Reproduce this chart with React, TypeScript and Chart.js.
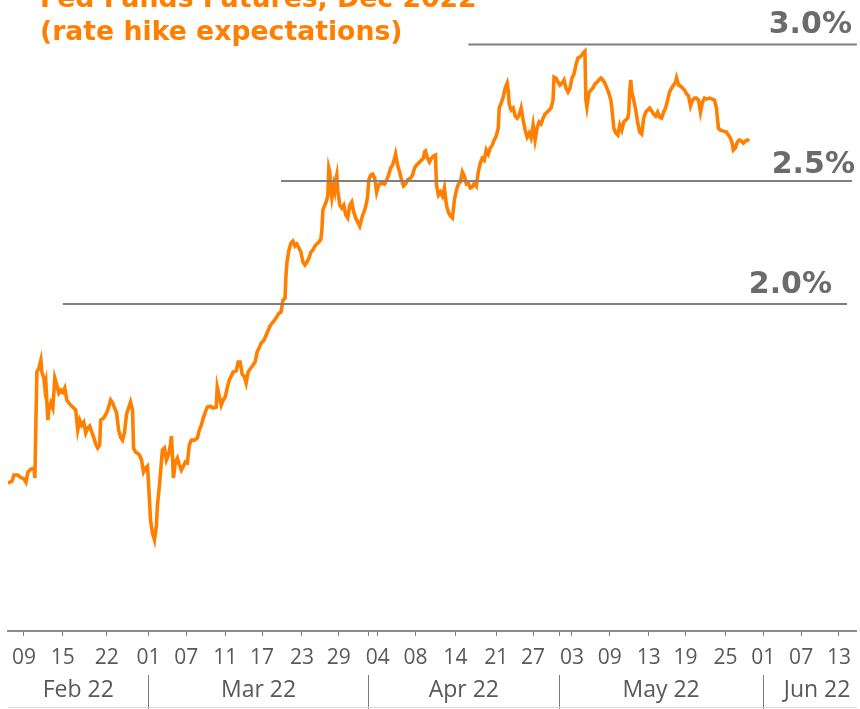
import { useEffect, useRef } from 'react';
import { Chart, registerables } from 'chart.js';

Chart.register(...registerables);

// Session position (trading-session units along the date axis)
const sessionX = [
  0, 0.2, 0.4, 0.6, 1.0, 1.2, 1.6, 1.8, 2.0, 2.3,
  2.6, 2.7, 2.8, 2.9, 3.1, 3.3, 3.4, 3.6, 3.7, 3.8,
  4.0, 4.1, 4.3, 4.5, 4.7, 4.9, 5.1, 5.3, 5.5, 5.7,
  5.9, 6.2, 6.5, 6.8, 7.0, 7.2, 7.4, 7.6, 7.8, 8.0,
  8.2, 8.4, 8.6, 8.8, 9.0, 9.2, 9.3, 9.6, 9.9, 10.1,
  10.3, 10.5, 10.7, 10.9, 11.1, 11.3, 11.5, 11.7, 11.9, 12.1,
  12.3, 12.5, 12.6, 12.8, 13.0, 13.2, 13.4, 13.6, 13.8, 14.0,
  14.2, 14.3, 14.5, 14.7, 14.9, 15.0, 15.2, 15.4, 15.5, 15.7,
  15.9, 16.1, 16.3, 16.4, 16.5, 16.6, 16.8, 17.0, 17.2, 17.4,
  17.6, 17.8, 18.0, 18.2, 18.4, 18.7, 19.0, 19.2, 19.4, 19.6,
  19.8, 20.0, 20.3, 20.6, 20.9, 21.0, 21.2, 21.4, 21.6, 21.8,
  22.0, 22.2, 22.4, 22.6, 22.9, 23.1, 23.3, 23.5, 23.7, 23.9,
  24.1, 24.3, 24.6, 24.8, 25.0, 25.2, 25.4, 25.7, 26.0, 26.3,
  26.6, 26.9, 27.2, 27.4, 27.6, 27.8, 27.9, 28.0, 28.2, 28.4,
  28.6, 28.8, 29.0, 29.2, 29.4, 29.6, 29.8, 30.0, 30.2, 30.4,
  30.6, 30.8, 31.0, 31.2, 31.4, 31.5, 31.6, 31.8, 32.0, 32.1,
  32.2, 32.3, 32.4, 32.5, 32.7, 32.8, 32.9, 33.0, 33.1, 33.3,
  33.5, 33.7, 33.9, 34.1, 34.3, 34.5, 34.7, 34.9, 35.1, 35.3,
  35.4, 35.6, 35.8, 36.0, 36.1, 36.2, 36.4, 36.6, 36.8, 37.0,
  37.2, 37.5, 37.8, 38.0, 38.2, 38.4, 38.6, 38.8, 38.9, 39.1,
  39.3, 39.5, 39.7, 39.9, 40.1, 40.4, 40.6, 40.8, 41.0, 41.2,
  41.5, 41.7, 41.8, 41.9, 42.1, 42.3, 42.5, 42.7, 42.9, 43.0,
  43.2, 43.4, 43.6, 43.8, 44.0, 44.2, 44.4, 44.6, 44.8, 45.0,
  45.2, 45.4, 45.6, 45.8, 46.0, 46.2, 46.4, 46.6, 46.8, 47.0,
  47.2, 47.4, 47.6, 47.8, 48.0, 48.2, 48.4, 48.6, 48.8, 49.0,
  49.2, 49.3, 49.5, 49.7, 49.9, 50.1, 50.2, 50.3, 50.5, 50.7,
  50.9, 51.1, 51.3, 51.5, 51.7, 51.9, 52.1, 52.3, 52.5, 52.7,
  52.9, 53.1, 53.3, 53.5, 53.7, 53.9, 54.1, 54.3, 54.5, 54.7,
  54.8, 55.0, 55.2, 55.4, 55.6, 55.8, 56.0, 56.2, 56.4, 56.6,
  56.8, 57.0, 57.2, 57.4, 57.6, 57.8, 57.9, 58.0, 58.1, 58.3,
  58.5, 58.7, 58.9, 59.1, 59.3, 59.5, 59.7, 59.9, 60.1, 60.3,
  60.5, 60.6, 60.8, 61.0, 61.2, 61.4, 61.6, 61.8, 62.0, 62.2,
  62.3, 62.4, 62.5, 62.6, 62.8, 63.0, 63.2, 63.4, 63.6, 63.8,
  64.0, 64.2, 64.4, 64.6, 64.8, 65.0, 65.2, 65.4, 65.6, 65.8,
  66.0, 66.2, 66.4, 66.6, 66.8, 67.0, 67.1, 67.3, 67.5, 67.7,
  67.9, 68.1, 68.3, 68.5, 68.7, 68.9, 69.1, 69.3, 69.5, 69.7,
  69.9, 70.1, 70.4, 70.7, 70.9, 71.1, 71.3, 71.5, 71.8, 72.1,
  72.3, 72.5, 72.7, 72.8, 73.0, 73.2, 73.4, 73.6, 73.8, 74.0,
  74.2, 74.4,
];

// Implied Dec-2022 fed funds rate, %
const impliedRate = [
  1.272, 1.276, 1.280, 1.305, 1.305, 1.297, 1.289, 1.276, 1.317, 1.329,
  1.333, 1.293, 1.520, 1.724, 1.740, 1.772, 1.724, 1.699, 1.659, 1.679,
  1.528, 1.569, 1.598, 1.577, 1.699, 1.671, 1.638, 1.650, 1.642, 1.659,
  1.610, 1.593, 1.581, 1.569, 1.488, 1.528, 1.508, 1.520, 1.476, 1.496,
  1.504, 1.480, 1.459, 1.431, 1.415, 1.427, 1.528, 1.537, 1.557, 1.581,
  1.610, 1.598, 1.577, 1.557, 1.488, 1.459, 1.447, 1.480, 1.553, 1.577,
  1.602, 1.569, 1.415, 1.398, 1.394, 1.386, 1.366, 1.317, 1.333, 1.341,
  1.203, 1.122, 1.069, 1.041, 1.102, 1.183, 1.264, 1.358, 1.407, 1.415,
  1.366, 1.386, 1.427, 1.463, 1.386, 1.293, 1.358, 1.374, 1.346, 1.325,
  1.341, 1.358, 1.354, 1.427, 1.447, 1.447, 1.455, 1.488, 1.508, 1.537,
  1.561, 1.581, 1.585, 1.577, 1.581, 1.663, 1.626, 1.589, 1.610, 1.622,
  1.659, 1.691, 1.707, 1.724, 1.728, 1.764, 1.764, 1.715, 1.707, 1.679,
  1.724, 1.736, 1.752, 1.764, 1.805, 1.821, 1.841, 1.854, 1.882, 1.911,
  1.927, 1.943, 1.963, 1.967, 2.016, 2.024, 2.118, 2.171, 2.220, 2.248,
  2.256, 2.236, 2.244, 2.228, 2.211, 2.171, 2.159, 2.171, 2.187, 2.211,
  2.220, 2.236, 2.244, 2.252, 2.264, 2.301, 2.382, 2.402, 2.423, 2.443,
  2.553, 2.537, 2.463, 2.431, 2.484, 2.463, 2.504, 2.524, 2.463, 2.402,
  2.390, 2.402, 2.362, 2.350, 2.402, 2.415, 2.374, 2.350, 2.333, 2.317,
  2.333, 2.362, 2.382, 2.415, 2.443, 2.504, 2.524, 2.528, 2.512, 2.455,
  2.484, 2.492, 2.488, 2.504, 2.524, 2.553, 2.565, 2.593, 2.610, 2.565,
  2.537, 2.504, 2.480, 2.488, 2.504, 2.512, 2.524, 2.553, 2.565, 2.573,
  2.585, 2.593, 2.618, 2.622, 2.593, 2.577, 2.593, 2.602, 2.606, 2.484,
  2.443, 2.455, 2.439, 2.472, 2.402, 2.374, 2.358, 2.350, 2.423, 2.463,
  2.488, 2.496, 2.537, 2.520, 2.488, 2.492, 2.472, 2.476, 2.492, 2.480,
  2.537, 2.573, 2.593, 2.585, 2.626, 2.610, 2.634, 2.646, 2.667, 2.683,
  2.715, 2.797, 2.817, 2.841, 2.878, 2.898, 2.870, 2.813, 2.789, 2.797,
  2.764, 2.756, 2.768, 2.797, 2.748, 2.707, 2.679, 2.695, 2.675, 2.728,
  2.667, 2.715, 2.740, 2.732, 2.756, 2.772, 2.780, 2.789, 2.797, 2.829,
  2.923, 2.919, 2.902, 2.890, 2.898, 2.911, 2.878, 2.862, 2.878, 2.919,
  2.935, 2.972, 3.000, 3.004, 3.012, 3.024, 3.028, 2.829, 2.801, 2.858,
  2.870, 2.878, 2.894, 2.902, 2.911, 2.919, 2.911, 2.898, 2.878, 2.858,
  2.829, 2.797, 2.715, 2.695, 2.687, 2.728, 2.707, 2.740, 2.748, 2.756,
  2.780, 2.870, 2.911, 2.862, 2.829, 2.789, 2.736, 2.699, 2.691, 2.756,
  2.780, 2.789, 2.797, 2.785, 2.772, 2.764, 2.780, 2.760, 2.756, 2.780,
  2.797, 2.829, 2.862, 2.878, 2.890, 2.902, 2.919, 2.890, 2.886, 2.878,
  2.870, 2.854, 2.846, 2.805, 2.829, 2.837, 2.837, 2.829, 2.780, 2.821,
  2.837, 2.833, 2.837, 2.833, 2.829, 2.797, 2.715, 2.707, 2.703, 2.699,
  2.687, 2.675, 2.650, 2.626, 2.634, 2.659, 2.667, 2.663, 2.654, 2.663,
  2.667, 2.663,
];

// Axis ranges
const xMin = 0;
const xMax = 85.2;
const yMin = 0.671;
const yMax = 3.236;

// Day ticks (first row)
const dayTickPos = [1.6, 5.5, 9.9, 14.1, 17.9, 21.8, 25.5, 29.5, 33.2, 37.1, 40.9, 44.9, 49.0, 52.7, 56.6, 60.4, 64.3, 68.0, 72.0, 75.8, 79.6, 83.4];
const dayTickLabels = ['09', '15', '22', '01', '07', '11', '17', '23', '29', '04', '08', '14', '21', '27', '03', '09', '13', '19', '25', '01', '07', '13'];

// Months (second row)
const monthBoundaries = [14.1, 36.2, 55.3, 75.8];
const monthCenters = [7.05, 25.15, 45.75, 65.55, 81.2];
const monthLabels = ['Feb 22', 'Mar 22', 'Apr 22', 'May 22', 'Jun 22'];

// Reference levels
const refLevels = [2.0, 2.5, 3.055];
const refStart = [5.5, 27.4, 46.2];
const refEnd = [84.2, 84.7, 85.2];
const refLabels = ['2.0%', '2.5%', '3.0%'];
const refLabelX = [82.7, 85.0, 84.7];
const refLabelY = [2.045, 2.533, 3.102];

const titleLines = ['Fed Funds Futures, Dec 2022', '(rate hike expectations)'];

const ORANGE = '#FF8000';

type TickDef = { value: number; label: string; sep: boolean };

const xTicks: TickDef[] = (() => {
  const list: TickDef[] = dayTickPos.map((v, i) => ({ value: v, label: dayTickLabels[i], sep: false }));
  monthBoundaries.forEach((b) => {
    if (!list.some((t) => Math.abs(t.value - b) < 0.05)) list.push({ value: b, label: '', sep: true });
  });
  return list.sort((a, b) => a.value - b.value);
})();

const monthTicks: TickDef[] = (() => {
  const list: TickDef[] = monthCenters.map((v, i) => ({ value: v, label: monthLabels[i], sep: false }));
  monthBoundaries.forEach((b) => list.push({ value: b, label: '', sep: true }));
  return list.sort((a, b) => a.value - b.value);
})();

const textPlugin = {
  id: 'textOverlay',
  afterDatasetsDraw(chart: any) {
    const { ctx, scales } = chart;
    const x = scales.x;
    const y = scales.y;
    ctx.save();
    ctx.font = 'bold 30px "DejaVu Sans"';
    ctx.fillStyle = '#6b6b6b';
    ctx.textAlign = 'right';
    ctx.textBaseline = 'alphabetic';
    refLabels.forEach((t, i) => {
      ctx.fillText(t, x.getPixelForValue(refLabelX[i]), y.getPixelForValue(refLabelY[i]));
    });
    ctx.textAlign = 'left';
    ctx.fillStyle = ORANGE;
    ctx.font = 'bold 26.7px "DejaVu Sans"';
    ctx.fillText(titleLines[0], 40, 7);
    ctx.fillText(titleLines[1], 40, 40);
    ctx.restore();
  },
  afterDraw(chart: any) {
    const { ctx, chartArea, height } = chart;
    ctx.save();
    ctx.strokeStyle = '#d9d9d9';
    ctx.lineWidth = 1;
    ctx.beginPath();
    ctx.moveTo(chartArea.left, height - 1.5);
    ctx.lineTo(chartArea.right, height - 1.5);
    ctx.stroke();
    ctx.restore();
  },
};

export default function App() {
  const ref = useRef<HTMLCanvasElement>(null);

  useEffect(() => {
    document.body.style.margin = '0';
    const n = Math.min(sessionX.length, impliedRate.length);
    const series = [];
    for (let i = 0; i < n; i++) series.push({ x: sessionX[i], y: impliedRate[i] });

    const refSets = refLevels.map((lv, i) => ({
      data: [
        { x: refStart[i], y: lv },
        { x: refEnd[i], y: lv },
      ],
      borderColor: '#808080',
      borderWidth: 2,
      pointRadius: 0,
      order: 0,
    }));

    const chart = new Chart(ref.current as HTMLCanvasElement, {
      type: 'line',
      data: {
        datasets: [
          {
            data: series,
            borderColor: ORANGE,
            borderWidth: 3.6,
            pointRadius: 0,
            tension: 0,
            order: 1,
          },
          ...refSets,
        ] as any,
      },
      options: {
        animation: false,
        responsive: false,
        maintainAspectRatio: false,
        devicePixelRatio: 1,
        layout: { padding: { left: 8, right: 0, top: 0, bottom: 0 } },
        plugins: {
          legend: { display: false },
          tooltip: { enabled: false },
          title: { display: false },
        },
        scales: {
          y: { type: 'linear', display: false, min: yMin, max: yMax },
          x: {
            type: 'linear',
            position: 'bottom',
            min: xMin,
            max: xMax,
            afterBuildTicks: (s: any) => {
              s.ticks = xTicks.map((t) => ({ value: t.value }));
            },
            afterFit: (s: any) => {
              s.height = 44;
            },
            ticks: {
              autoSkip: false,
              maxRotation: 0,
              minRotation: 0,
              padding: 9,
              color: '#595959',
              font: { family: '"Open Sans"', size: 21 },
              callback: (_v: any, i: number) => (xTicks[i] ? xTicks[i].label : ''),
            },
            grid: {
              display: true,
              drawOnChartArea: false,
              drawTicks: true,
              tickLength: 5,
              tickWidth: 1,
              tickColor: '#7f7f7f',
              color: '#7f7f7f',
            },
            border: { display: true, color: '#8c8c8c', width: 2 },
          },
          x2: {
            type: 'linear',
            position: 'bottom',
            min: xMin,
            max: xMax,
            afterBuildTicks: (s: any) => {
              s.ticks = monthTicks.map((t) => ({ value: t.value }));
            },
            afterFit: (s: any) => {
              s.height = 34;
            },
            ticks: {
              autoSkip: false,
              maxRotation: 0,
              minRotation: 0,
              padding: -32,
              color: '#595959',
              font: { family: '"Open Sans"', size: 23 },
              callback: (_v: any, i: number) => (monthTicks[i] ? monthTicks[i].label : ''),
            },
            grid: {
              display: true,
              drawOnChartArea: false,
              drawTicks: true,
              tickLength: 34,
              tickWidth: 1,
              color: (c: any) => (monthTicks[c.index] && monthTicks[c.index].sep ? '#7a7a7a' : 'rgba(0,0,0,0)'),
              tickColor: (c: any) => (monthTicks[c.index] && monthTicks[c.index].sep ? '#7a7a7a' : 'rgba(0,0,0,0)'),
            },
            border: { display: false },
          },
        } as any,
      },
      plugins: [textPlugin],
    });
    return () => chart.destroy();
  }, []);

  return <canvas ref={ref} width={860} height={709} style={{ display: 'block', width: 860, height: 709 }} />;
}
